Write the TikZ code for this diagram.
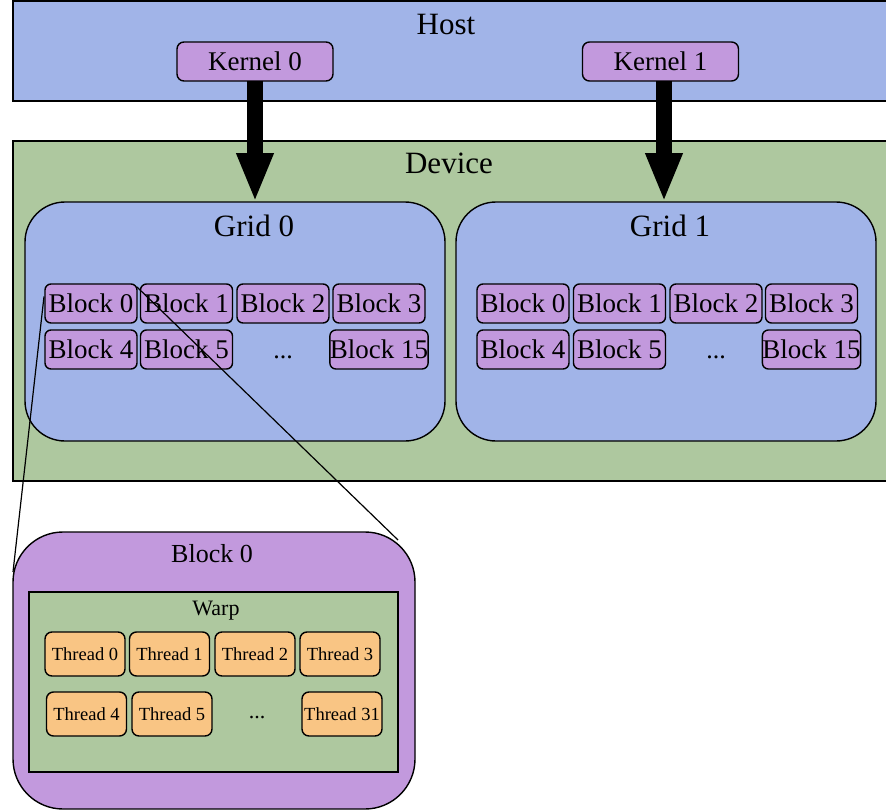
\documentclass[tikz,border=0pt]{standalone}
\usepackage{fontspec}
\setmainfont{Liberation Serif}
\usetikzlibrary{arrows.meta,calc}
\definecolor{hostblue}{HTML}{A1B4E8}
\definecolor{devgreen}{HTML}{AEC89F}
\definecolor{kpurple}{HTML}{C299DD}
\definecolor{thorange}{HTML}{F9C584}

\begin{document}
\begin{tikzpicture}[x=1pt,y=-1pt,
  frame/.style={draw=black, line width=1.4pt, inner sep=0pt, outer sep=0pt},
  panel/.style={frame, rectangle},
  gridbox/.style={frame, fill=hostblue, rounded corners=40pt,
    minimum width=420pt, minimum height=239pt},
  blk/.style={frame, fill=kpurple, rounded corners=6pt,
    minimum width=92pt, minimum height=39pt, font=\fontsize{27}{27}\selectfont},
  kern/.style={frame, fill=kpurple, rounded corners=7pt,
    minimum width=156pt, minimum height=39pt, font=\fontsize{27}{27}\selectfont},
  thr/.style={frame, fill=thorange, rounded corners=7pt,
    minimum width=80pt, minimum height=44pt, font=\fontsize{18.5}{18.5}\selectfont},
  title/.style={anchor=base, inner sep=0pt, font=\fontsize{31}{31}\selectfont},
  dots/.style={inner sep=0pt},
  launch/.style={line width=16pt, -{Triangle[width=34pt,length=49pt]}},
  zoomline/.style={line width=1.2pt}
]
\useasboundingbox (0,0) rectangle (886,811);
\clip (0,0) rectangle (886,811);

% Host side with its two kernels
\node[panel, fill=hostblue, minimum width=907pt, minimum height=100pt] (host) at (466.5,51) {};
\node[title] (hostlbl) at (446,34) {Host};
\node[kern] (k0) at (255,61.5) {Kernel 0};
\node[kern] (k1) at (660.5,61.5) {Kernel 1};

% Device with two grids
\node[panel, fill=devgreen, minimum width=907pt, minimum height=340pt] (dev) at (466.5,311) {};
\node[title] (devlbl) at (449,173) {Device};
\node[gridbox] (g0) at (235,321.5) {};
\node[gridbox] (g1) at (666,321.5) {};
\node[title] (g0lbl) at (254,236) {Grid 0};
\node[title] (g1lbl) at (670,236) {Grid 1};

% Blocks of grid 0
\node[blk] (a0) at (91,303.5) {Block 0};
\node[blk] (a1) at (186.5,303.5) {Block 1};
\node[blk] (a2) at (283,303.5) {Block 2};
\node[blk] (a3) at (379,303.5) {Block 3};
\node[blk] (a4) at (91,349.5) {Block 4};
\node[blk] (a5) at (186.5,349.5) {Block 5};
\node[dots, font=\fontsize{26}{26}\selectfont] (adots) at (283,357) {...};
\node[blk] (a15) at (379,349.5) {Block 15};

% Blocks of grid 1
\node[blk] (b0) at (523,303.5) {Block 0};
\node[blk] (b1) at (619.5,303.5) {Block 1};
\node[blk] (b2) at (716,303.5) {Block 2};
\node[blk] (b3) at (811.5,303.5) {Block 3};
\node[blk] (b4) at (523,349.5) {Block 4};
\node[blk] (b5) at (619.5,349.5) {Block 5};
\node[dots, font=\fontsize{26}{26}\selectfont] (bdots) at (716,357) {...};
\node[blk] (b15) at (811.5,349.5) {Block 15};

% Kernel launches
\draw[launch] (k0.south) -- (k0.south |- g0.north);
\draw[launch] ($(k1.south)+(3.5,0)$) -- ($(k1.south |- g1.north)+(3.5,0)$);

% Expanded view of one block
\node[frame, fill=kpurple, rounded corners=50pt, minimum width=402pt, minimum height=277pt] (big) at (214,670.5) {};
\node[title, font=\fontsize{26}{26}\selectfont] (biglbl) at (212,562) {Block 0};
\node[panel, fill=devgreen, minimum width=369pt, minimum height=180pt] (warp) at (213.5,682) {};
\node[title, font=\fontsize{22}{22}\selectfont] (warplbl) at (216,615) {Warp};

\node[thr] (t0) at (85,654) {Thread 0};
\node[thr] (t1) at (169.5,654) {Thread 1};
\node[thr] (t2) at (255,654) {Thread 2};
\node[thr] (t3) at (340,654) {Thread 3};
\node[thr] (t4) at (86.5,714) {Thread 4};
\node[thr] (t5) at (172,714) {Thread 5};
\node[dots, font=\fontsize{22}{22}\selectfont] (tdots) at (257,718) {...};
\node[thr] (t31) at (342,714) {Thread 31};

% Zoom lines from grid block to the expanded view
\draw[zoomline] ($(a0.west)+(-1,-7)$) -- ($(big.north west)+(0,40)$);
\draw[zoomline] ($(a0.north east)+(0,3)$) -- ($(big.north east)+(-17,8)$);
\end{tikzpicture}
\end{document}
